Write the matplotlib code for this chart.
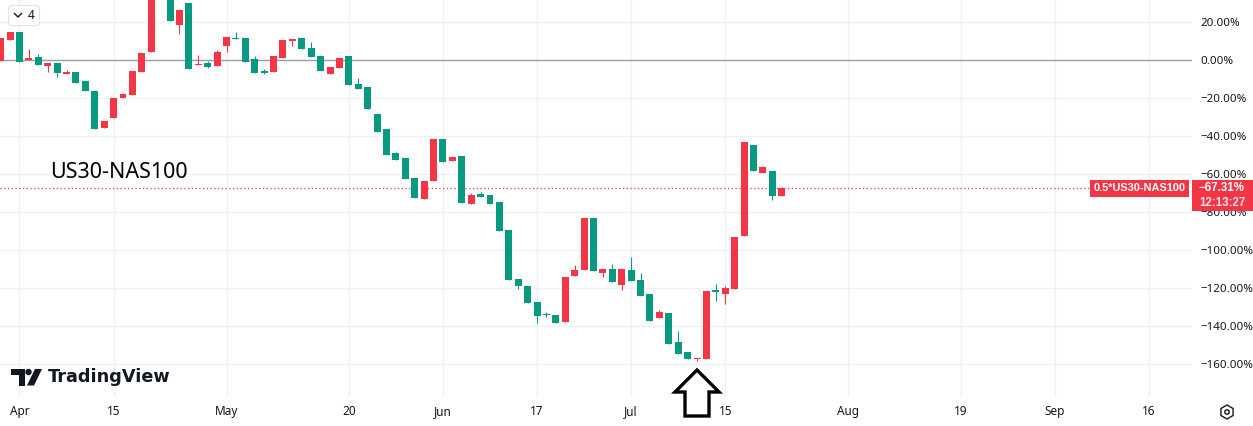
import matplotlib
matplotlib.use('Agg')
import matplotlib.pyplot as plt
import matplotlib.transforms as mtrans
from matplotlib.patches import Rectangle, Polygon, FancyBboxPatch, Circle, RegularPolygon
import numpy as np

plt.rcParams['font.family'] = ['Noto Sans', 'DejaVu Sans']

# daily candles of 0.5*US30-NAS100 in percent, first bar is two sessions before Apr 1
opens = [-0.4, 10.7, 14.7, 0.0, 1.6, -3.0, -1.6, -7.2, -6.3, -11.1,
         -16.3, -35.6, -30.4, -19.8, -18.4, -6.2, 4.2, 36.5, 40.0, 18.4,
         30.0, -2.5, -1.6, -3.0, 7.5, 11.4, 11.6, 0.5, -5.6, -6.2,
         1.2, 10.2, 11.6, 6.3, 2.3, -7.2, -4.1, 2.3, -12.6, -14.2,
         -28.4, -36.3, -48.9, -51.6, -62.1, -73.2, -63.7, -41.6, -53.2, -50.5,
         -75.8, -70.5, -71.1, -74.7, -89.5, -115.3, -118.9, -127.4, -133.5, -134.2,
         -137.9, -113.7, -110.5, -83.2, -112.1, -110.0, -118.4, -110.5, -115.8, -123.2,
         -135.8, -133.2, -148.4, -153.7, -157.4, -157.4, -121.1, -123.2, -120.5, -92.6,
         -44.7, -59.5, -58.4, -71.6]
highs = [11.7, 14.7, 14.7, 5.8, 3.2, -1.6, -1.6, -5.3, -6.3, -11.1,
         -16.3, -32.1, -20.0, -17.4, -5.8, 3.7, 36.0, 42.0, 40.0, 26.3,
         30.0, 2.6, -0.5, 5.3, 12.1, 14.7, 11.6, 2.1, -4.9, 2.1,
         10.5, 11.1, 11.6, 9.5, 2.8, -3.7, 1.1, 2.3, -9.5, -14.2,
         -28.4, -36.3, -48.4, -51.6, -62.1, -63.7, -41.6, -41.6, -51.1, -50.5,
         -70.0, -69.5, -71.1, -74.7, -89.5, -115.3, -118.9, -127.4, -132.6, -134.2,
         -114.2, -107.9, -83.2, -83.2, -110.0, -107.4, -110.0, -103.7, -112.1, -123.2,
         -131.6, -133.2, -142.6, -153.7, -156.8, -121.6, -117.9, -118.9, -93.2, -43.2,
         -44.7, -55.8, -58.4, -66.8]
lows = [-0.4, 10.7, -0.9, 0.0, -2.5, -6.2, -8.8, -7.2, -11.9, -16.2,
        -36.2, -35.6, -30.4, -19.8, -18.4, -6.2, 4.2, 35.0, 20.7, 13.8,
        -4.7, -2.5, -4.2, -3.0, 4.4, 10.9, -0.9, -6.7, -7.2, -6.2,
        1.2, 7.5, 5.9, 1.7, -5.6, -7.2, -4.1, -13.0, -15.1, -25.6,
        -37.7, -50.0, -52.6, -62.6, -72.6, -73.2, -63.7, -53.7, -53.2, -75.3,
        -75.8, -72.1, -75.8, -90.0, -115.8, -120.5, -127.9, -138.4, -135.3, -138.4,
        -137.9, -113.7, -110.5, -111.1, -114.2, -116.8, -121.1, -116.3, -124.2, -137.4,
        -135.8, -149.5, -154.7, -157.4, -158.3, -157.4, -126.8, -128.4, -120.5, -92.6,
        -58.4, -59.5, -73.7, -71.6]
closes = [11.7, 14.7, -0.9, 1.1, -2.5, -1.6, -6.7, -6.3, -11.9, -16.2,
          -36.2, -32.1, -20.0, -17.9, -5.8, 3.7, 36.0, 40.0, 20.7, 26.3,
          -4.7, -1.9, -3.7, 4.2, 12.1, 10.9, -0.9, -6.7, -6.7, 2.1,
          10.5, 11.1, 5.9, 1.7, -5.6, -3.7, 1.1, -13.0, -15.1, -25.6,
          -37.7, -50.0, -52.6, -62.6, -72.6, -63.7, -41.6, -53.7, -51.1, -75.3,
          -71.1, -72.1, -75.8, -90.0, -115.8, -118.9, -127.9, -134.7, -134.2, -138.4,
          -114.2, -110.5, -83.2, -111.1, -110.0, -116.8, -110.0, -116.3, -124.2, -137.4,
          -132.6, -149.5, -154.7, -157.4, -156.8, -121.6, -122.1, -120.0, -93.2, -43.2,
          -58.4, -56.3, -71.6, -67.31]

# time scale: bar index 0 = Apr 1, weekends skipped
tick_idx = [0, 10, 22, 35, 45, 55, 65, 75, 88, 100, 110, 120]
tick_labels = ['Apr', '15', 'May', '20', 'Jun', '17', 'Jul', '15', 'Aug', '19', 'Sep', '16']
y_ticks = [20, 0, -20, -40, -60, -80, -100, -120, -140, -160]

symbol = 'US30-NAS100'
last_label = '0.5*US30-NAS100'
countdown = '12:13:27'

RED = '#f23645'
GREEN = '#089981'
TXT = '#131722'
GRID = '#eef1f7'
BOLD = ['Liberation Sans', 'DejaVu Sans']

W, H = 1253, 426
fig = plt.figure(figsize=(W / 100, H / 100), dpi=100)
fig.patch.set_facecolor('white')

plot_w, plot_h = 1192, 397
ax = fig.add_axes([0, (H - plot_h) / H, plot_w / W, plot_h / H])
ax.set_facecolor('white')

x = np.arange(len(opens)) - 2
o = np.array(opens)
c = np.array(closes)
hi = np.array(highs)
lo = np.array(lows)
# on this chart a rising bar is red and a falling one green
cols = np.where(c >= o, RED, GREEN)

ax.vlines(x, lo, hi, colors=cols, linewidth=0.8, zorder=3)
body_bot = np.minimum(o, c)
body_h = np.maximum(np.abs(c - o), 0.55)
ax.bar(x, body_h, bottom=body_bot, width=0.74, color=cols, linewidth=0, zorder=4)

ax.set_xlim(-2.07, 124.6)
ax.set_ylim(-177.4, 31.58)

for v in y_ticks:
    if v == 0:
        ax.axhline(v, color='#9a9da6', linewidth=1.0, zorder=2)
    else:
        ax.axhline(v, color=GRID, linewidth=1.0, zorder=1)
for t in tick_idx:
    ax.axvline(t, color=GRID, linewidth=1.0, zorder=1)

for s in ax.spines.values():
    s.set_visible(False)
ax.yaxis.tick_right()
ax.set_yticks(y_ticks)
ax.set_yticklabels([('\u2212' if v < 0 else '') + '%.2f%%' % abs(v) for v in y_ticks])
ax.set_xticks(tick_idx)
ax.set_xticklabels(tick_labels)
ax.tick_params(axis='y', length=0, pad=6, labelsize=8.3, labelcolor=TXT)
ax.tick_params(axis='x', length=0, pad=6, labelsize=8.5, labelcolor=TXT)

# last price line and labels
last = closes[-1]
px_per_unit = plot_h / (31.58 + 177.4)
ax.axhline(last, xmin=0, xmax=1089 / plot_w, color=RED, linewidth=0.9,
           linestyle=(0, (1, 2)), zorder=2)
blend = mtrans.blended_transform_factory(ax.transAxes, ax.transData)
ax.add_patch(Rectangle((1090 / plot_w, last - 9 / px_per_unit), 99 / plot_w,
                       17 / px_per_unit, transform=blend, facecolor=RED,
                       edgecolor='none', zorder=6))
ax.text(1139.5 / plot_w, last, last_label, transform=blend, family=BOLD,
        ha='center', va='center', color='white', fontsize=7.9, fontweight='bold', zorder=7)
ax.add_patch(Rectangle((1.0, last - 23 / px_per_unit), (W - plot_w) / plot_w,
                       31 / px_per_unit, transform=blend, facecolor=RED,
                       edgecolor='none', clip_on=False, zorder=6))
ax.text(1199 / plot_w, last, ('\u2212' if last < 0 else '') + '%.2f%%' % abs(last),
        transform=blend, family=BOLD, ha='left', va='center', color='white', fontsize=8.3,
        fontweight='bold', clip_on=False, zorder=7)
ax.text(1199 / plot_w, last - 15 / px_per_unit, countdown, transform=blend, family=BOLD,
        ha='left', va='center', color='#fde3e5', fontsize=8.3, fontweight='bold',
        clip_on=False, zorder=7)

ax.text(50 / plot_w, 1 - 172 / plot_h, symbol, transform=ax.transAxes,
        ha='left', va='center', fontsize=15.5, color='black', zorder=6)

# overlay in pixel coordinates for the chrome
ov = fig.add_axes([0, 0, 1, 1])
ov.set_xlim(0, W)
ov.set_ylim(H, 0)
ov.axis('off')
ov.patch.set_visible(False)

# legend collapse button
ov.add_patch(FancyBboxPatch((8.5, 5.5), 31, 20, boxstyle='round,pad=0,rounding_size=3',
                            facecolor='white', edgecolor='#e0e3eb', linewidth=0.8))
ov.plot([14.5, 18, 21.5], [13.5, 17, 13.5], color=TXT, linewidth=1.0)
ov.text(31, 15.5, '4', ha='center', va='center', fontsize=8.5, color=TXT)

# TradingView logo
ov.add_patch(Polygon([(11, 369), (24.5, 369), (24.5, 385.5), (18.5, 385.5), (18.5, 374.5), (11, 374.5)],
                     closed=True, facecolor=TXT, edgecolor='none'))
ov.add_patch(Circle((28.5, 372), 3.2, facecolor=TXT, edgecolor='none'))
ov.add_patch(Polygon([(35, 369), (42, 369), (34, 385.5), (27, 385.5)],
                     closed=True, facecolor=TXT, edgecolor='none'))
ov.text(47.5, 377, 'TradingView', ha='left', va='center', fontsize=12.7,
        family='DejaVu Sans', fontweight='bold', color=TXT)

# hand-drawn arrow
ov.add_patch(Polygon([(697, 370), (719, 392), (709, 392), (709, 416), (685, 416), (685, 392), (675, 392)],
                     closed=True, facecolor='white', edgecolor='black', linewidth=2.4,
                     joinstyle='miter', zorder=8))

# settings icon
ov.add_patch(RegularPolygon((1227, 412), 6, radius=7, orientation=0, facecolor='none',
                            edgecolor=TXT, linewidth=1.0))
ov.add_patch(Circle((1227, 412), 2.2, facecolor='none', edgecolor=TXT, linewidth=1.0))

fig.savefig('out.png', dpi=100, facecolor='white')
